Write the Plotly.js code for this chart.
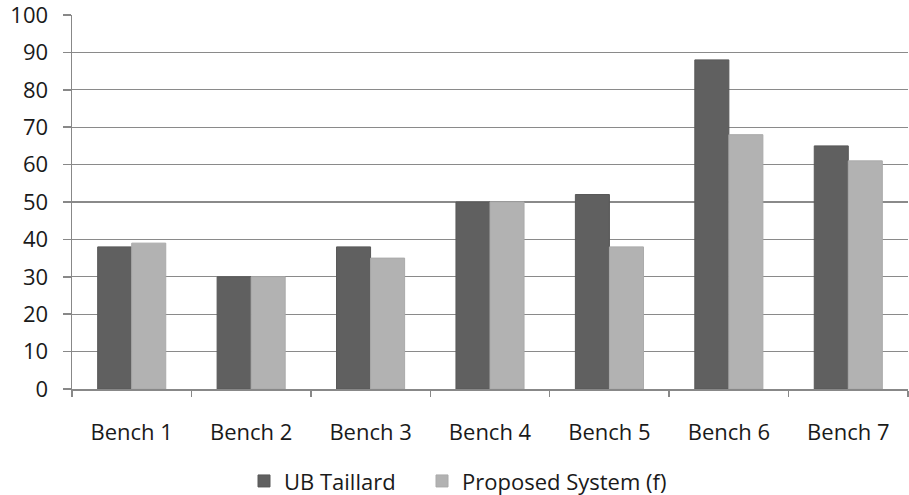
<!DOCTYPE html>
<html>
<head>
<meta charset="utf-8">
<script src="https://cdn.plot.ly/plotly-3.0.1.min.js"></script>
<style>
  html, body { margin: 0; padding: 0; background: #fff; }
  #chart { width: 909px; height: 495px; }
</style>
</head>
<body>
<div id="chart"></div>
<script>
// Benchmarks and the two compared series
var benches = ["Bench 1", "Bench 2", "Bench 3", "Bench 4", "Bench 5", "Bench 6", "Bench 7"];
var ubTaillard = [38, 30, 38, 50, 52, 88, 65];
var proposed = [39, 30, 35, 50, 38, 68, 61];
var yTicks = [0, 10, 20, 30, 40, 50, 60, 70, 80, 90, 100];

var fontFam = "'Open Sans', 'Noto Sans', sans-serif";
var textFont = { family: fontFam, size: 22, color: "#1a1a1a" };

var traces = [
  {
    type: "bar", name: "UB Taillard", x: benches, y: ubTaillard,
    legend: "legend",
    marker: { color: "#606060", line: { color: "#585858", width: 1 } },
    hoverinfo: "x+y"
  },
  {
    type: "bar", name: "Proposed System (f)", x: benches, y: proposed,
    legend: "legend2",
    marker: { color: "#b2b2b2", line: { color: "#aaaaaa", width: 1 } },
    hoverinfo: "x+y"
  }
];

// one legend box per series so the spacing between the two entries can be set
function legendAt(xPx) {
  return {
    orientation: "h", xref: "container", yref: "container",
    x: xPx / 909, xanchor: "left", y: 0.028, yanchor: "middle",
    font: textFont, bgcolor: "rgba(0,0,0,0)"
  };
}

var layout = {
  width: 909, height: 495,
  margin: { l: 72, r: 1, t: 15, b: 106 },
  paper_bgcolor: "#fff", plot_bgcolor: "#fff",
  barmode: "group", bargap: 0.43, bargroupgap: 0,
  font: textFont,
  xaxis: {
    type: "category", tickson: "boundaries",
    ticks: "outside", ticklen: 6, tickcolor: "#888", tickwidth: 1.5,
    showline: true, linecolor: "#888", linewidth: 1.5,
    showgrid: false, zeroline: false,
    ticklabelstandoff: 23,
    tickfont: textFont
  },
  yaxis: {
    range: [0, 100], tickvals: yTicks, ticktext: yTicks.map(String),
    ticks: "outside", ticklen: 8, tickcolor: "#888", tickwidth: 1.5,
    showline: true, linecolor: "#888", linewidth: 1.5,
    showgrid: true, gridcolor: "#8a8a8a", gridwidth: 1.3,
    zeroline: false, ticklabelstandoff: 10, ticklabeloverflow: "allow",
    tickfont: textFont
  },
  showlegend: true,
  legend: legendAt(244),
  legend2: legendAt(422)
};

Plotly.newPlot("chart", traces, layout, { displayModeBar: false, staticPlot: true });
</script>
</body>
</html>
